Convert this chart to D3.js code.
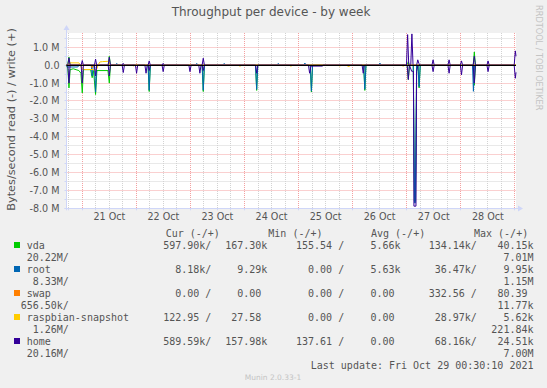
<!DOCTYPE html>
<html>
<head>
<meta charset="utf-8">
<script src="https://cdn.jsdelivr.net/npm/d3@7"></script>
<style>
  body { margin: 0; background: #f0f0f0; }
  svg { display: block; }
  .mono { font-family: "DejaVu Sans Mono", monospace; font-size: 10px; fill: #555; white-space: pre; }
</style>
</head>
<body>
<div id="chart-area"></div>
<script>
/*
*   Throughput per device - by week (munin diskstats)
*   times are hours since 20 Oct 2021 00:00 UTC, values in MB/s
*/
var vdaRead = [[17,0],[17.6,-0.2],[18.1,-1.27],[18.6,-0.25],[20,-0.2],[22.5,-0.3],[23.4,-0.45],[24,-1.55],[24.5,-0.25],
    [27.7,-0.25],[28.4,-0.7],[29,-0.3],[29.9,-1.64],[30.5,-0.3],[35.4,-0.3],[36,-1.0],[36.5,0],
    [53.2,0],[53.7,-1.47],[54.2,0],[77.2,0],[77.7,-1.47],[78.2,0],[100.9,0],[101.4,-1.41],[101.9,0],
    [125.2,0],[125.7,-1.5],[126.2,0],[148.9,0],[149.4,-1.41],[149.9,0],[168.2,0],[168.7,-0.8],[169.2,0],
    [170.9,0],[171.4,-7.6],[171.9,-7.6],[172.4,0],
    [173,0],[173.5,-1.27],[174,0],[197.5,0],[198,-1.12],[198.5,0],[216.5,0]];
var vdaWrite = [[17,0],[17.6,0.1],[18.1,0.45],[18.6,0],[35.5,0],[36,0.5],[36.5,0],[168.2,0],[168.7,0.2],[169.2,0],
    [197.5,0],[198,0.74],[198.5,0],[216.5,0]];
var rootRead = [[17,0],[17.5,-0.1],[22,-0.1],[22.5,0],[28,0],[28.4,-0.6],[28.9,0],[29.4,0],[29.9,-1.5],[30.4,0],
    [53.2,0],[53.7,-1.4],[54.2,0],[77.2,0],[77.7,-1.4],[78.2,0],[100.9,0],[101.4,-1.35],[101.9,0],
    [125.2,0],[125.7,-1.45],[126.2,0],[148.9,0],[149.4,-1.35],[149.9,0],
    [170.9,0],[171.5,-7.7],[171.8,-7.7],[172.4,0],[173,0],[173.5,-1.2],[174,0],
    [197.2,0],[197.6,-1.46],[198.1,0],[216.5,0]];
var rootWrite = [[17,0],[38.8,0],[39.3,0.1],[39.8,0],[74.3,0],[74.8,0.1],[75.3,0],[86.5,0],[87,0.1],[87.5,0],
    [110.5,0],[111,0.1],[111.5,0],[122.3,0],[122.8,0.12],[123.3,0],[155.6,0],[156.1,0.12],[156.6,0],[216.5,0]];
var swapRead = [[17,0],[28,0],[28.4,-0.15],[28.8,0],[216.5,0]];
var swapWrite = [[17,0],[216.5,0]];
var raspRead = [[17,0],[23.2,0],[23.8,-0.2],[25,-0.24],[29,-0.24],[29.6,-0.3],[30.5,-0.2],[31,0],
    [46.2,0],[46.6,-0.05],[47,0],[93.6,0],[94,-0.07],[94.4,0],[116.2,0],[116.6,-0.07],[117,0],
    [137.9,0],[138.3,-0.06],[138.7,0],[141.4,0],[141.8,-0.06],[142.6,-0.06],[143,0],[166,0],[166.4,-0.07],[166.8,0],[216.5,0]];
var raspWrite = [[17,0],[17.8,0.1],[18.5,0.13],[22.5,0.13],[23.2,0],[31,0],[31.8,0.18],[33,0.2],[35.8,0.22],[36.3,0],[216.5,0]];
var homeRead = [[17,0],[17.6,0],[18.1,-1.0],[18.6,0],[23.5,0],[24,-1.0],[24.5,0],[29.4,0],[29.9,-0.6],[30.4,0],
    [35.5,0],[36,-0.6],[36.5,0],[41.7,0],[42.2,-0.41],[42.7,0],[47.6,0],[48.1,-0.45],[48.6,0],[51.8,0],[52.3,-0.45],[52.8,0],
    [53.2,0],[53.7,-0.3],[54.2,0],[59.4,0],[59.9,-0.36],[60.4,0],[71.3,0],[71.8,-0.36],[72.3,0],[75.7,0],[76.2,-0.45],[76.7,0],
    [77.2,0],[77.7,-0.3],[78.2,0],[100.9,0],[101.4,-0.45],[101.9,0],[124.4,0],[124.9,-0.45],[125.5,-0.05],[130.5,-0.05],[131,0],
    [148.2,0],[148.7,-0.45],[149.2,0],[168.2,0],[168.7,-0.8],[169.2,0],[170.2,-0.34],[171,-0.34],[171.2,-7.88],[172.1,-7.88],
    [172.4,-0.34],[173,0],[179.2,0],[179.7,-0.36],[180.2,0],[186.3,0],[186.8,-0.45],[187.3,0],[191.8,0],[192.3,-0.54],[192.8,0],
    [197.5,0],[198,-1.0],[198.5,0],[203.6,0],[204.1,-0.36],[204.6,0],[215.7,0],[216.2,-0.73],[216.5,-0.4]];
var homeWrite = [[17,0],[17.6,0],[18.1,0.41],[18.6,0],[23.5,0],[24,0.26],[24.5,0],[29.4,0],[29.9,0.34],[30.4,0],
    [35.5,0],[36,0.45],[36.5,0],[41.7,0],[42.2,0.1],[42.7,0],[53.2,0],[53.7,0.24],[54.2,0],[59.4,0],[59.9,0.1],[60.4,0],
    [77.2,0],[77.7,0.39],[78.2,0],[167.9,0],[168.4,1.71],[168.9,0],[169.8,0],[170.3,1.75],[170.8,0],[172.4,0],[172.9,0.3],
    [173.4,0.1],[173.9,0],[179.2,0],[179.7,0.3],[180.2,0],[186.3,0],[186.8,0.3],[187.3,0],[191.8,0],[192.3,0.24],[192.8,0],
    [197.5,0],[198,0.5],[198.5,0],[203.6,0],[204.1,0.24],[204.6,0],[215.7,0],[216.2,0.8],[216.5,0.5]];

// legend
var devices = ["vda", "root", "swap", "raspbian-snapshot", "home"];
var colors = ["#00cc00", "#0066b3", "#ff8000", "#ffcc00", "#330099"];
var curRd = ["597.90k/", "8.18k/", "0.00 /", "122.95 /", "589.59k/"];
var curWr = ["167.30k", "9.29k", "0.00 ", "27.58 ", "157.98k"];
var minRd = ["155.54 /", "0.00 /", "0.00 /", "0.00 /", "137.61 /"];
var minWr = ["5.66k", "5.63k", "0.00 ", "0.00 ", "0.00 "];
var avgRd = ["134.14k/", "36.47k/", "332.56 /", "28.97k/", "68.16k/"];
var avgWr = ["40.15k", "9.95k", "80.39 ", "5.62k", "24.51k"];
var maxRd = ["20.22M/", "8.33M/", "656.50k/", "1.26M/", "20.16M/"];
var maxWr = ["7.01M", "1.15M", "11.77k", "221.84k", "7.00M"];
var series = [vdaRead, vdaWrite, rootRead, rootWrite, swapRead, swapWrite, raspRead, raspWrite, homeRead, homeWrite];

var W = 547, H = 388;
var pLeft = 66.5, pRight = 516, pTop = 33, pBottom = 208.3;
var base = Date.UTC(2021, 9, 20);
function toDate(h) { return new Date(base + h * 3600e3); }
function crisp(v) { return Math.floor(v) + 0.5; }

var svg = d3.select("#chart-area").append("svg")
    .attr("width", W).attr("height", H);

svg.append("rect").attr("width", W).attr("height", H).attr("fill", "#f0f0f0");
svg.append("rect")
    .attr("x", pLeft).attr("y", pTop)
    .attr("width", pRight - pLeft).attr("height", pBottom - pTop)
    .attr("fill", "#ffffff");

var x = d3.scaleUtc().domain([toDate(17), toDate(216.5)]).range([pLeft, pRight]);
var y = d3.scaleLinear().domain([-8, 1.8]).range([pBottom, pTop]);

// grid
var g = svg.append("g");
var hours = d3.utcHour.every(6).range(toDate(17), toDate(216.6));
hours.forEach(function(d) {
    var major = d.getUTCHours() === 0;
    g.append("line")
        .attr("x1", crisp(x(d))).attr("x2", crisp(x(d)))
        .attr("y1", pTop).attr("y2", pBottom)
        .attr("stroke", major ? "#f4a0a0" : "#d2d2d2")
        .attr("stroke-dasharray", "1,1");
});
d3.range(-8, 1.8, 0.5).forEach(function(v) {
    var major = Math.abs(v - Math.round(v)) < 1e-9;
    g.append("line")
        .attr("x1", pLeft).attr("x2", pRight)
        .attr("y1", crisp(y(v))).attr("y2", crisp(y(v)))
        .attr("stroke", major ? "#f4a0a0" : "#d2d2d2")
        .attr("stroke-dasharray", "1,1");
});

// axes
var axisCol = "#cfd6f8";
svg.append("line").attr("x1", crisp(pLeft)).attr("x2", crisp(pLeft))
    .attr("y1", pBottom + 2).attr("y2", 28).attr("stroke", axisCol);
svg.append("path").attr("d", "M" + (crisp(pLeft) - 3) + ",30L" + crisp(pLeft) + ",25L" + (crisp(pLeft) + 3) + ",30Z")
    .attr("fill", axisCol);
svg.append("line").attr("x1", pLeft - 2).attr("x2", 520)
    .attr("y1", crisp(pBottom)).attr("y2", crisp(pBottom)).attr("stroke", axisCol);
svg.append("path").attr("d", "M518," + (crisp(pBottom) - 3) + "L523," + crisp(pBottom) + "L518," + (crisp(pBottom) + 3) + "Z")
    .attr("fill", axisCol);
d3.range(-8, 1.8, 0.5).forEach(function(v) {
    svg.append("line").attr("x1", pLeft - 2).attr("x2", pLeft)
        .attr("y1", crisp(y(v))).attr("y2", crisp(y(v))).attr("stroke", axisCol);
});
hours.forEach(function(d) {
    svg.append("line").attr("x1", crisp(x(d))).attr("x2", crisp(x(d)))
        .attr("y1", pBottom).attr("y2", pBottom + 2).attr("stroke", axisCol);
});

// tick labels
d3.range(-8, 2, 1).forEach(function(v) {
    svg.append("text")
        .attr("x", 59.5).attr("y", y(v) + 3.5)
        .attr("text-anchor", "end")
        .attr("font-family", "DejaVu Sans").attr("font-size", "9.6px").attr("fill", "#555")
        .text(v === 0 ? "0.0" : v.toFixed(1) + " M");
});
var fmt = d3.utcFormat("%d %b");
d3.utcDay.range(toDate(24), toDate(200)).forEach(function(d) {
    var noon = d3.utcHour.offset(d, 12);
    svg.append("text")
        .attr("x", x(noon)).attr("y", 219.5)
        .attr("text-anchor", "middle")
        .attr("font-family", "DejaVu Sans").attr("font-size", "9.6px").attr("fill", "#555")
        .text(fmt(noon));
});

// series lines, home last
var line = d3.line()
    .x(function(d) { return x(toDate(d[0])); })
    .y(function(d) { return y(d[1]); });
series.forEach(function(s, i) {
    svg.append("path")
        .attr("d", line(s))
        .attr("fill", "none")
        .attr("stroke", colors[Math.floor(i / 2)])
        .attr("stroke-width", 1);
});
svg.append("line").attr("x1", pLeft).attr("x2", pRight)
    .attr("y1", crisp(y(0))).attr("y2", crisp(y(0)))
    .attr("stroke", "#000").attr("stroke-width", 1);

// titles
svg.append("text")
    .attr("x", 271).attr("y", 16)
    .attr("text-anchor", "middle")
    .attr("font-family", "DejaVu Sans").attr("font-size", "12px").attr("fill", "#555")
    .text("Throughput per device - by week");
svg.append("text")
    .attr("transform", "translate(14.5,119.5) rotate(-90)")
    .attr("text-anchor", "middle")
    .attr("font-family", "DejaVu Sans").attr("font-size", "11.3px").attr("fill", "#555")
    .text("Bytes/second read (-) / write (+)");
svg.append("text")
    .attr("transform", "translate(536,5) rotate(90)")
    .attr("font-family", "DejaVu Sans").attr("font-size", "8.2px").attr("fill", "#c4c4c4")
    .text("RRDTOOL / TOBI OETIKER");

// legend
var rowY = 245.7, rowH = 12;
function mono(xp, yp, anchor, txt) {
    svg.append("text")
        .attr("class", "mono")
        .attr("xml:space", "preserve")
        .attr("x", xp).attr("y", yp + 3.6)
        .attr("text-anchor", anchor)
        .text(txt);
}
mono(165.7, 233.5, "start", "Cur (-/+)");
mono(268.3, 233.5, "start", "Min (-/+)");
mono(371, 233.5, "start", "Avg (-/+)");
mono(474, 233.5, "start", "Max (-/+)");
devices.forEach(function(dev, i) {
    var r = rowY + i * 2 * rowH;
    svg.append("rect")
        .attr("x", 14).attr("y", r - 3.7)
        .attr("width", 6).attr("height", 6)
        .attr("fill", colors[i]);
    mono(26.7, r, "start", dev);
    mono(211.3, r, "end", curRd[i]);
    mono(267.3, r, "end", curWr[i]);
    mono(344.2, r, "end", minRd[i]);
    mono(400.5, r, "end", minWr[i]);
    mono(476.8, r, "end", avgRd[i]);
    mono(533.5, r, "end", avgWr[i]);
    mono(68.8, r + rowH, "end", maxRd[i]);
    mono(533.5, r + rowH, "end", maxWr[i]);
});
mono(533.5, rowY + 10 * rowH, "end", "Last update: Fri Oct 29 00:30:10 2021");
svg.append("text")
    .attr("x", 273).attr("y", 380)
    .attr("text-anchor", "middle")
    .attr("font-family", "DejaVu Sans").attr("font-size", "7.5px").attr("fill", "#c4c4c4")
    .text("Munin 2.0.33-1");
</script>
</body>
</html>
